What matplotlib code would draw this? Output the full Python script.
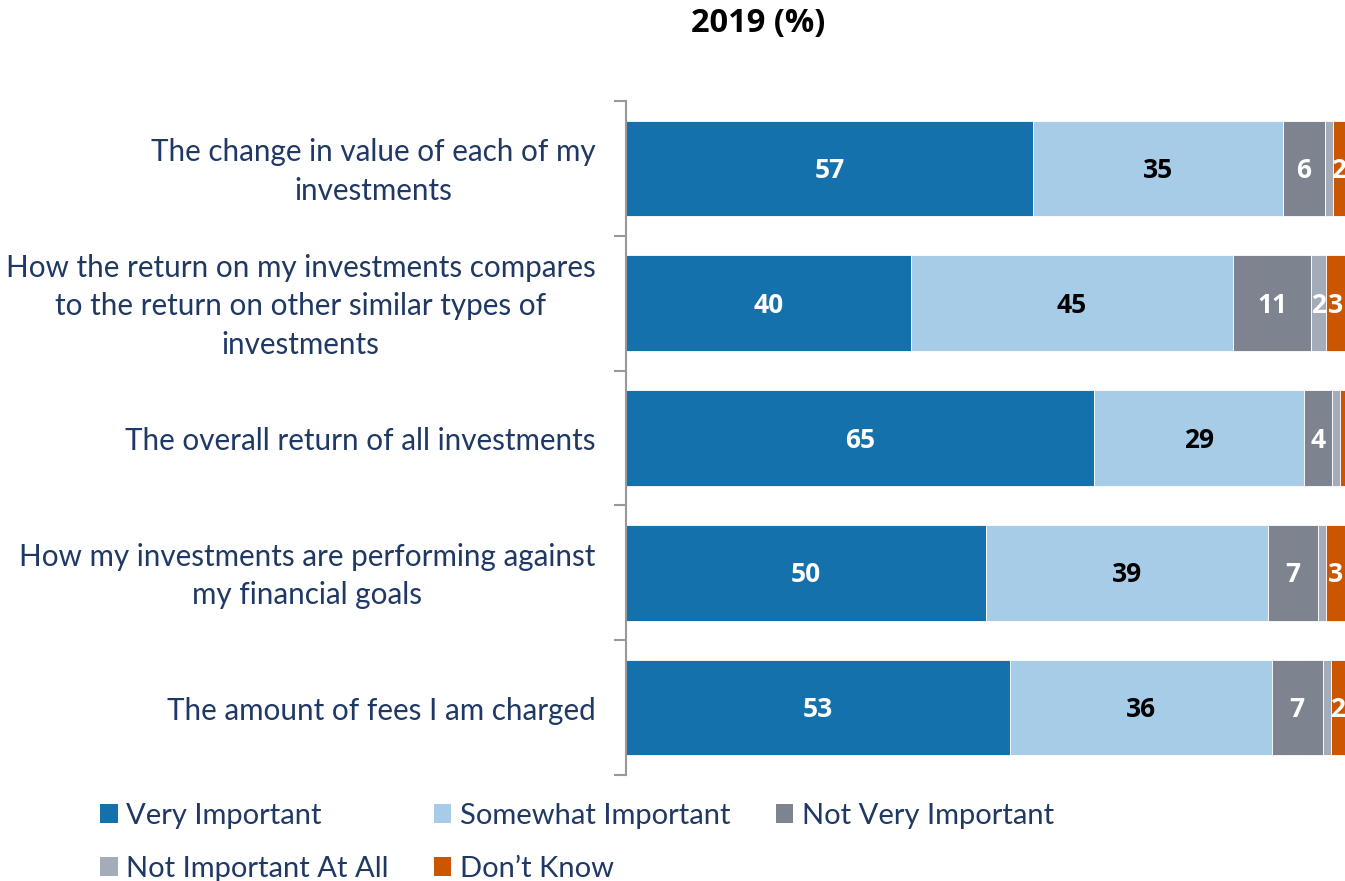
import matplotlib.pyplot as plt
from matplotlib.patches import Patch
import numpy as np

plt.rcParams['font.family'] = ['Lato', 'DejaVu Sans']

categories = [
    'The change in value of each of my\ninvestments',
    'How the return on my investments compares\nto the return on other similar types of\ninvestments',
    'The overall return of all investments',
    'How my investments are performing against\nmy financial goals',
    'The amount of fees I am charged',
]
series = ['Very Important', 'Somewhat Important', 'Not Very Important',
          'Not Important At All', 'Don\u2019t Know']
# percentages (labels shown rounded)
very_important = [56.6, 39.6, 65.1, 50.1, 53.4]
somewhat_important = [34.8, 44.8, 29.2, 39.2, 36.4]
not_very_important = [5.8, 10.9, 3.9, 6.9, 7.1]
not_at_all = [1.1, 2.1, 1.1, 1.2, 1.1]
dont_know = [1.7, 2.6, 0.7, 2.6, 2.0]

colors = ['#1571AB', '#A6CCE8', '#7D8490', '#A3ACB8', '#CC5500']
text_colors = ['white', 'black', 'white', 'white', 'white']
navy = '#1F3864'

data = [very_important, somewhat_important, not_very_important, not_at_all, dont_know]

fig = plt.figure(figsize=(13.45, 8.81), dpi=100)
ax = fig.add_axes([626/1345, 106/881, 1 - 626/1345, (775-101)/881])

y = np.arange(len(categories))
left = np.zeros(len(categories))
for vals, c, tc, name in zip(data, colors, text_colors, series):
    vals = np.array(vals, dtype=float)
    ax.barh(y, vals, left=left, height=0.71, color=c, edgecolor='white',
            linewidth=0.6, label=name)
    for yi, (l, v) in enumerate(zip(left, vals)):
        if round(v) >= 2:
            ax.text(l + v / 2, yi + 0.015, f'{v:.0f}', ha='center', va='center',
                    color=tc, fontsize=19, fontweight='bold',
                    family=['Open Sans', 'DejaVu Sans'], clip_on=False)
    left += vals

ax.set_xlim(0, 100)
ax.set_ylim(len(categories) - 0.5, -0.5)
ax.set_xticks([])
for s in ['top', 'right', 'bottom']:
    ax.spines[s].set_visible(False)
ax.spines['left'].set_color('#999999')
ax.spines['left'].set_linewidth(1.5)

ax.set_yticks(np.arange(len(categories) + 1) - 0.5)
ax.set_yticklabels([])
ax.tick_params(axis='y', which='major', length=9, width=1.5, color='#999999')
# label positions nudged slightly down to sit on the bar centres
ax.set_yticks(y + 0.022, minor=True)
ax.set_yticklabels(categories, minor=True, fontsize=21.3, color=navy,
                   multialignment='center', linespacing=1.45, va='center')
ax.tick_params(axis='y', which='minor', length=0, pad=22)

fig.text(0.564, 0.973, '2019 (%)', ha='center', va='center',
         fontsize=23.5, fontweight='bold', color='black',
         family=['Open Sans', 'DejaVu Sans'])

handles = [Patch(facecolor=c, label=n) for c, n in zip(colors, series)]
order = [0, 3, 1, 4, 2]
fig.legend([handles[i] for i in order], [series[i] for i in order],
           ncol=3, loc='upper left', bbox_to_anchor=(100/1345, 1 - 803/881),
           frameon=False, fontsize=21, labelcolor=navy, borderpad=0,
           borderaxespad=0, handlelength=0.6, handleheight=0.6,
           handletextpad=0.3, columnspacing=1.55, labelspacing=0.92)

fig.savefig('out.png', dpi=100)
